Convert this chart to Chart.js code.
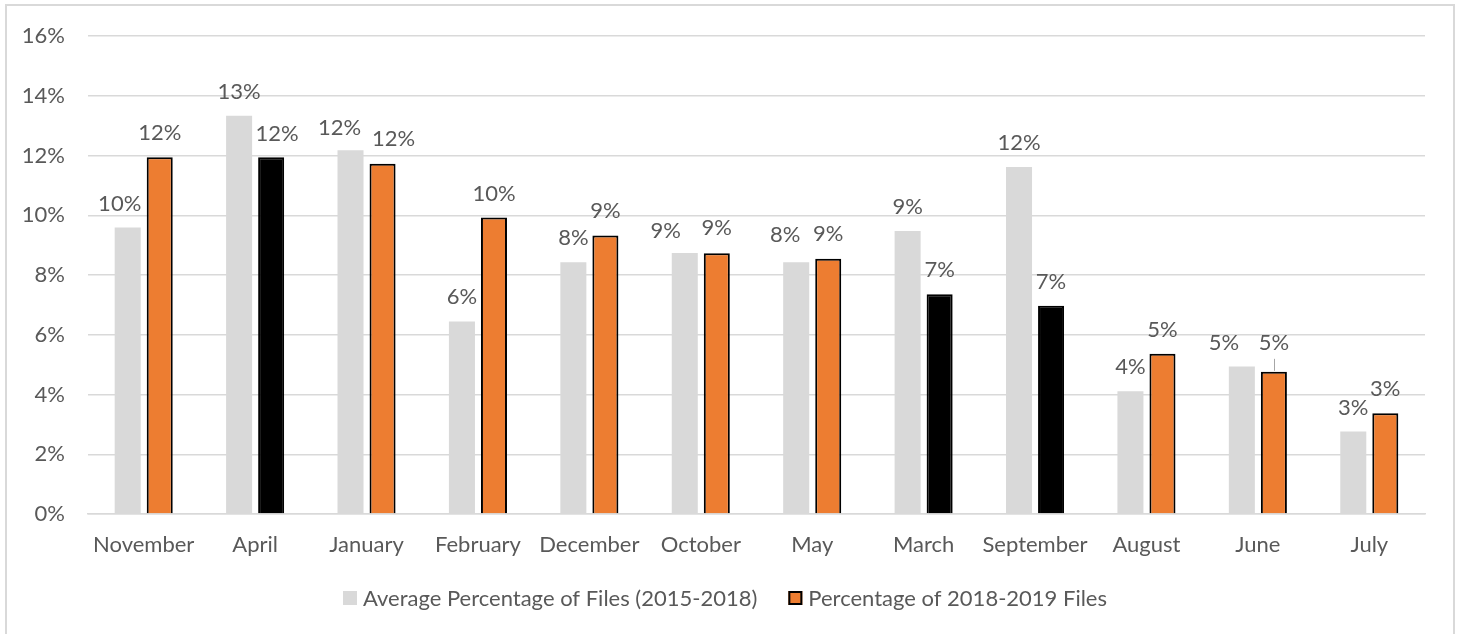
<!DOCTYPE html>
<html>
<head>
<meta charset="utf-8">
<title>Monthly share of files</title>
<script src="https://cdn.jsdelivr.net/npm/chart.js@4/dist/chart.umd.min.js"></script>
<style>
  html, body { margin: 0; padding: 0; background: #ffffff; }
  #wrap { width: 1460px; height: 634px; }
</style>
</head>
<body>
<div id="wrap"><canvas id="chart" width="1460" height="634"></canvas></div>
<script>
// Months, ordered as in the report
const months = ['November', 'April', 'January', 'February', 'December', 'October',
                'May', 'March', 'September', 'August', 'June', 'July'];

// Share of files per month, in percent
const averageShare = [9.59, 13.34, 12.18, 6.45, 8.43, 8.74, 8.43, 9.48, 11.62, 4.11, 4.94, 2.76];
const currentShare = [11.95, 11.95, 11.73, 9.93, 9.33, 8.73, 8.55, 7.36, 6.97, 5.37, 4.76, 3.37];

// Months where the current share fell below the average trend get a dark bar
const highlighted = ['April', 'March', 'September'];

// Series names
const seriesNames = ['Average Percentage of Files (2015-2018)', 'Percentage of 2018-2019 Files'];

// Value axis tick values
const yTicks = [0, 2, 4, 6, 8, 10, 12, 14, 16];

const FONT = 'Lato';
const FONT_SIZE = 22;
const TEXT = '#595959';
const GRID = '#d9d9d9';
const GREY = '#d9d9d9';
const ORANGE = '#ed7d31';

// Value labels sit 24px (centre) above their bar; a few are nudged sideways/up
// so neighbouring labels do not collide. Key: "month|datasetIndex" -> [dx, dy]
const labelNudges = {
  'November|0': [-8, 0],
  'April|1': [6, 1],
  'January|0': [-11, 2],
  'January|1': [11, -1],
  'October|0': [-19, 2],
  'October|1': [0, -1],
  'May|0': [-11, -3],
  'May|1': [0, -1],
  'June|0': [-18, 0],
  'June|1': [0, -5]
};
// Labels joined to their bar by a short leader line
const leaderLabels = ['June|1'];

// Frame around the whole figure
const framePlugin = {
  id: 'frame',
  beforeDraw(chart) {
    const ctx = chart.ctx;
    ctx.save();
    ctx.fillStyle = '#ffffff';
    ctx.fillRect(0, 0, chart.width, chart.height);
    ctx.strokeStyle = GRID;
    ctx.lineWidth = 2;
    ctx.strokeRect(6, 5, 1448, 660);
    ctx.restore();
  }
};

// Rounded percentage printed above each bar
const valueLabels = {
  id: 'valueLabels',
  afterDatasetsDraw(chart) {
    const ctx = chart.ctx;
    ctx.save();
    ctx.font = FONT_SIZE + 'px ' + FONT;
    ctx.fillStyle = TEXT;
    ctx.textAlign = 'center';
    ctx.textBaseline = 'middle';
    chart.data.datasets.forEach((ds, di) => {
      const meta = chart.getDatasetMeta(di);
      meta.data.forEach((bar, i) => {
        const key = chart.data.labels[i] + '|' + di;
        const [dx, dy] = labelNudges[key] || [0, 0];
        const text = Math.round(ds.data[i]) + '%';
        ctx.fillText(text, bar.x + dx, bar.y - 24 + dy);
        if (leaderLabels.includes(key)) {
          ctx.strokeStyle = '#a6a6a6';
          ctx.lineWidth = 1;
          ctx.beginPath();
          ctx.moveTo(Math.round(bar.x) + 0.5, bar.y - 13);
          ctx.lineTo(Math.round(bar.x) + 0.5, bar.y - 1);
          ctx.stroke();
        }
      });
    });
    ctx.restore();
  }
};

// Legend row under the axis: swatch, short gap, series name
const legendRow = {
  id: 'legendRow',
  afterDraw(chart) {
    const ctx = chart.ctx;
    const startX = 343, centerY = 598, box = 14, textGap = 6, itemGap = 31;
    ctx.save();
    ctx.font = FONT_SIZE + 'px ' + FONT;
    ctx.textAlign = 'left';
    ctx.textBaseline = 'middle';
    let x = startX;
    chart.data.datasets.forEach((ds, di) => {
      const meta = chart.getDatasetMeta(di);
      const style = meta.controller.getStyle(0);
      ctx.fillStyle = style.backgroundColor;
      ctx.fillRect(x, centerY - box / 2, box, box);
      if (style.borderWidth) {
        ctx.strokeStyle = style.borderColor;
        ctx.lineWidth = style.borderWidth;
        ctx.strokeRect(x + 1, centerY - box / 2 + 1, box - 2, box - 2);
      }
      x += box + textGap;
      ctx.fillStyle = TEXT;
      ctx.fillText(ds.label, x, centerY + 1);
      x += ctx.measureText(ds.label).width + itemGap;
    });
    ctx.restore();
  }
};

new Chart(document.getElementById('chart'), {
  type: 'bar',
  data: {
    labels: months,
    datasets: [
      {
        label: seriesNames[0],
        data: averageShare,
        backgroundColor: GREY,
        borderWidth: 0,
        categoryPercentage: 0.575,
        barPercentage: 0.8125
      },
      {
        label: seriesNames[1],
        data: currentShare,
        backgroundColor: months.map(m => highlighted.includes(m) ? '#000000' : ORANGE),
        borderColor: '#000000',
        borderWidth: 2,
        categoryPercentage: 0.575,
        barPercentage: 0.8125
      }
    ]
  },
  options: {
    responsive: false,
    animation: false,
    layout: { padding: { top: 33, right: 35, bottom: 76, left: 0 } },
    scales: {
      x: {
        grid: { display: false, drawTicks: false },
        border: { display: true, color: GRID, width: 1.5 },
        ticks: { color: TEXT, font: { family: FONT, size: FONT_SIZE }, padding: 18, maxRotation: 0 },
        afterFit(scale) { scale.height = 44; }
      },
      y: {
        min: 0,
        max: 16,
        afterBuildTicks(scale) { scale.ticks = yTicks.map(v => ({ value: v })); },
        grid: { color: GRID, lineWidth: 1.5, drawTicks: false },
        border: { display: false },
        ticks: {
          color: TEXT,
          font: { family: FONT, size: FONT_SIZE },
          padding: 23,
          callback: v => v + '%'
        },
        afterFit(scale) { scale.width = 88; }
      }
    },
    plugins: {
      legend: { display: false },
      tooltip: { enabled: false }
    }
  },
  plugins: [framePlugin, valueLabels, legendRow]
});
</script>
</body>
</html>
